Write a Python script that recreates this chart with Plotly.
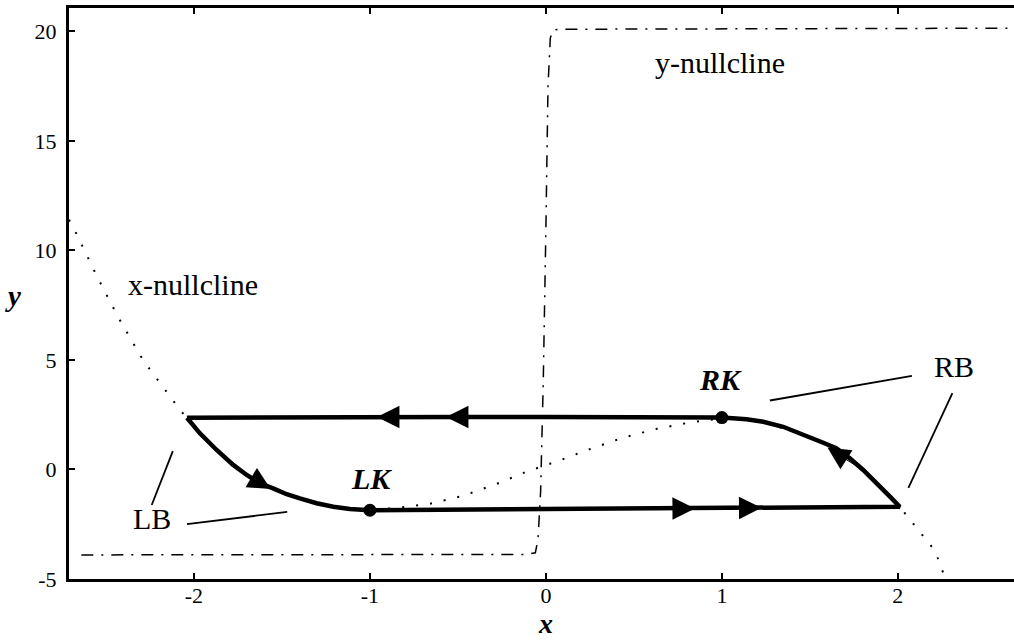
import plotly.graph_objects as go

# x-nullcline (cubic-shaped), read along its whole length
xnull_x = [-2.71, -2.67, -2.55, -2.43, -2.29, -2.165, -2.08, -2.04, -1.87, -1.70, -1.55,
           -1.40, -1.21, -1.0, -0.85, -0.66, -0.47, -0.28, -0.11, 0.07, 0.25, 0.43,
           0.62, 0.82, 1.0, 1.23, 1.44, 1.65, 1.80, 1.95, 2.01, 2.06, 2.15, 2.20, 2.23, 2.27]
xnull_y = [11.4, 10.8, 8.8, 6.95, 5.0, 3.64, 2.73, 2.34, 0.89, -0.25, -0.86,
           -1.32, -1.70, -1.86, -1.75, -1.57, -1.20, -0.66, -0.10, 0.39, 0.93, 1.43,
           1.84, 2.15, 2.34, 2.18, 1.65, 0.97, -0.02, -1.24, -1.70, -2.2, -3.1, -3.6, -4.1, -5.0]

# y-nullcline (step-like sigmoid near x = 0)
ynull_x = [-2.64, -0.12, -0.06, -0.045, -0.03, -0.015, 0.0, 0.012, 0.025, 0.04, 0.07, 2.70]
ynull_y = [-3.9, -3.88, -3.8, -3.2, -1.0, 4.0, 11.0, 17.5, 19.7, 20.05, 20.1, 20.15]

# closed relaxation-oscillation trajectory (clockwise from the LB corner)
traj_x = [-2.04, -1.966, -1.871, -1.777, -1.70, -1.625, -1.55, -1.473, -1.398, -1.303,
          -1.208, -1.114, -1.0, -0.5, 0.0, 0.5, 0.818, 1.5, 2.011,
          1.955, 1.879, 1.803, 1.727, 1.65, 1.576, 1.50, 1.443, 1.348, 1.235, 1.14, 1.0,
          0.5, 0.0, -0.5, -1.0, -1.5, -2.04]
traj_y = [2.36, 1.65, 0.89, 0.21, -0.25, -0.63, -0.86, -1.13, -1.32, -1.54,
          -1.70, -1.80, -1.86, -1.83, -1.80, -1.78, -1.77, -1.73, -1.70,
          -1.24, -0.63, -0.02, 0.51, 0.97, 1.22, 1.47, 1.65, 1.95, 2.18, 2.29, 2.37,
          2.40, 2.40, 2.40, 2.40, 2.39, 2.36]

# knee points
knee_x = [-1.0, 1.0]
knee_y = [-1.86, 2.37]

# direction arrows: tip (x, y) and tail (x, y)
arrow_tip_x = [-0.96, -0.568, -1.564, 0.847, 1.225, 1.60]
arrow_tip_y = [2.40, 2.40, -0.89, -1.78, -1.75, 1.0]
arrow_tail_x = [-0.80, -0.40, -1.70, 0.65, 1.05, 1.80]
arrow_tail_y = [2.40, 2.40, -0.25, -1.79, -1.76, -0.02]

# labels
label_text = ["<b><i>RK</i></b>", "<b><i>LK</i></b>", "RB", "LB", "x-nullcline", "y-nullcline"]
label_x = [0.994, -0.99, 2.32, -2.24, -2.006, 0.99]
label_y = [4.09, -0.39, 4.68, -2.25, 8.45, 18.6]

# callout lines (x0, y0, x1, y1)
callout_x0 = [1.273, 2.31, -2.12, -2.04]
callout_y0 = [3.15, 3.49, 0.84, -2.49]
callout_x1 = [2.08, 2.06, -2.24, -1.47]
callout_y1 = [4.27, -0.84, -1.62, -1.94]

xtick_vals = [-2, -1, 0, 1, 2]
xtick_text = ["-2", "-1", "0", "1", "2"]
ytick_vals = [-5, 0, 5, 10, 15, 20]
ytick_text = ["-5", "0", "5", "10", "15", "20"]

FONT = "Liberation Serif, Times New Roman, serif"

fig = go.Figure()

fig.add_trace(go.Scatter(
    x=xnull_x, y=xnull_y, mode="lines",
    line=dict(color="black", width=2, dash="2px,12px"),
    hoverinfo="skip", showlegend=False))

fig.add_trace(go.Scatter(
    x=ynull_x, y=ynull_y, mode="lines",
    line=dict(color="black", width=1.5, dash="12px,8px,2px,8px"),
    hoverinfo="skip", showlegend=False))

fig.add_trace(go.Scatter(
    x=traj_x, y=traj_y, mode="lines",
    line=dict(color="black", width=4.5),
    hoverinfo="skip", showlegend=False))

fig.add_trace(go.Scatter(
    x=knee_x, y=knee_y, mode="markers",
    marker=dict(color="black", size=13),
    hoverinfo="skip", showlegend=False))

for tx, ty, sx, sy in zip(arrow_tip_x, arrow_tip_y, arrow_tail_x, arrow_tail_y):
    fig.add_annotation(
        x=tx, y=ty, ax=sx, ay=sy, xref="x", yref="y", axref="x", ayref="y",
        text="", showarrow=True, arrowhead=2, arrowsize=4.5, arrowwidth=1,
        arrowcolor="black", standoff=0)

for t, lx, ly in zip(label_text, label_x, label_y):
    fig.add_annotation(
        x=lx, y=ly, xref="x", yref="y", text=t, showarrow=False,
        font=dict(family=FONT, size=30, color="black"),
        xanchor="center", yanchor="middle")

for x0, y0, x1, y1 in zip(callout_x0, callout_y0, callout_x1, callout_y1):
    fig.add_shape(type="line", x0=x0, y0=y0, x1=x1, y1=y1, xref="x", yref="y",
                  line=dict(color="black", width=1.8))

# axis titles
fig.add_annotation(x=0.0, y=-0.109, xref="x", yref="paper",
                   text="<b><i>x</i></b>", showarrow=False,
                   font=dict(family=FONT, size=28, color="black"),
                   xanchor="center", yanchor="bottom")
fig.add_annotation(x=-0.059, y=7.9, xref="paper", yref="y",
                   text="<b><i>y</i></b>", showarrow=False,
                   font=dict(family=FONT, size=29, color="black"),
                   xanchor="center", yanchor="middle")

fig.update_xaxes(
    range=[-2.71, 2.66], showgrid=False, zeroline=False,
    showline=True, linecolor="black", linewidth=3, mirror="ticks",
    ticks="inside", ticklen=6, tickwidth=2, tickcolor="black",
    tickvals=xtick_vals, ticktext=xtick_text, ticklabelstandoff=-5,
    tickfont=dict(family=FONT, size=22, color="black"))
fig.update_yaxes(
    range=[-5.0, 21.07], showgrid=False, zeroline=False,
    showline=True, linecolor="black", linewidth=3,
    ticks="inside", ticklen=6, tickwidth=2, tickcolor="black",
    tickvals=ytick_vals, ticktext=ytick_text, ticklabelstandoff=5,
    tickfont=dict(family=FONT, size=22, color="black"))

fig.update_layout(
    width=1014, height=642,
    margin=dict(l=69, r=0, t=8, b=63),
    paper_bgcolor="white", plot_bgcolor="white",
    showlegend=False)

fig.write_html("out.html")
